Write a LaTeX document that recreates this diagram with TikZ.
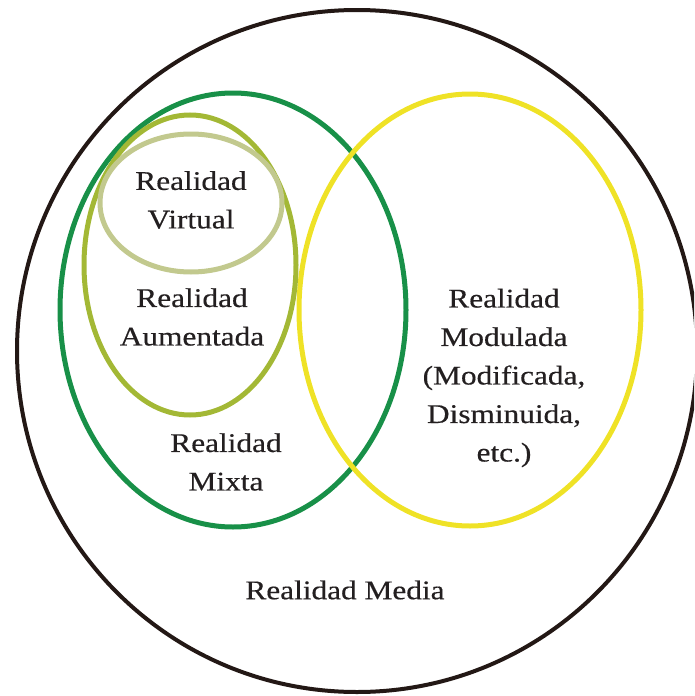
\documentclass[tikz,border=0pt]{standalone}
\usepackage{fontspec}
\setmainfont[FakeStretch=1.16,FakeBold=0.4]{Liberation Serif}
\definecolor{ringblack}{RGB}{35,24,21}
\definecolor{textdark}{RGB}{35,31,32}
\definecolor{mixgreen}{RGB}{24,144,72}
\definecolor{augolive}{RGB}{163,184,53}
\definecolor{virtsage}{RGB}{194,201,142}
\definecolor{modyellow}{RGB}{239,226,38}
\tikzset{
  ring/.style={line width=#1},
  label/.style={text=textdark, align=center, inner sep=0pt,
    font=\fontsize{27}{38.5}\selectfont}
}
\begin{document}
\begin{tikzpicture}[x=1pt,y=-1pt]
\useasboundingbox (0,0) rectangle (694,696);
\begin{scope}
\clip (0,0) rectangle (694,696);
% outer set: mediated reality
\draw[ring=4pt, ringblack] (357,351) ellipse [x radius=340, y radius=341];
\end{scope}
% mixed reality
\draw[ring=5pt, mixgreen] (233,310) ellipse [x radius=173, y radius=217];
% modulated reality
\draw[ring=5pt, modyellow] (470,310) ellipse [x radius=171, y radius=216];
% augmented reality
\draw[ring=5pt, augolive] (190,265) ellipse [x radius=106, y radius=150];
% virtual reality
\draw[ring=5pt, virtsage] (191,203) ellipse [x radius=91, y radius=69];

\node[label] (vr) at (191,200) {Realidad\\Virtual};
\node[label] (ar) at (192,317) {Realidad\\Aumentada};
\node[label] (mr) at (226,462) {Realidad\\Mixta};
\node[label] (mod) at (504,378) {Realidad\\Modulada\\(Modificada,\\Disminuida,\\etc.)};
\node[label] (med) at (345,590) {Realidad Media};
\end{tikzpicture}
\end{document}
